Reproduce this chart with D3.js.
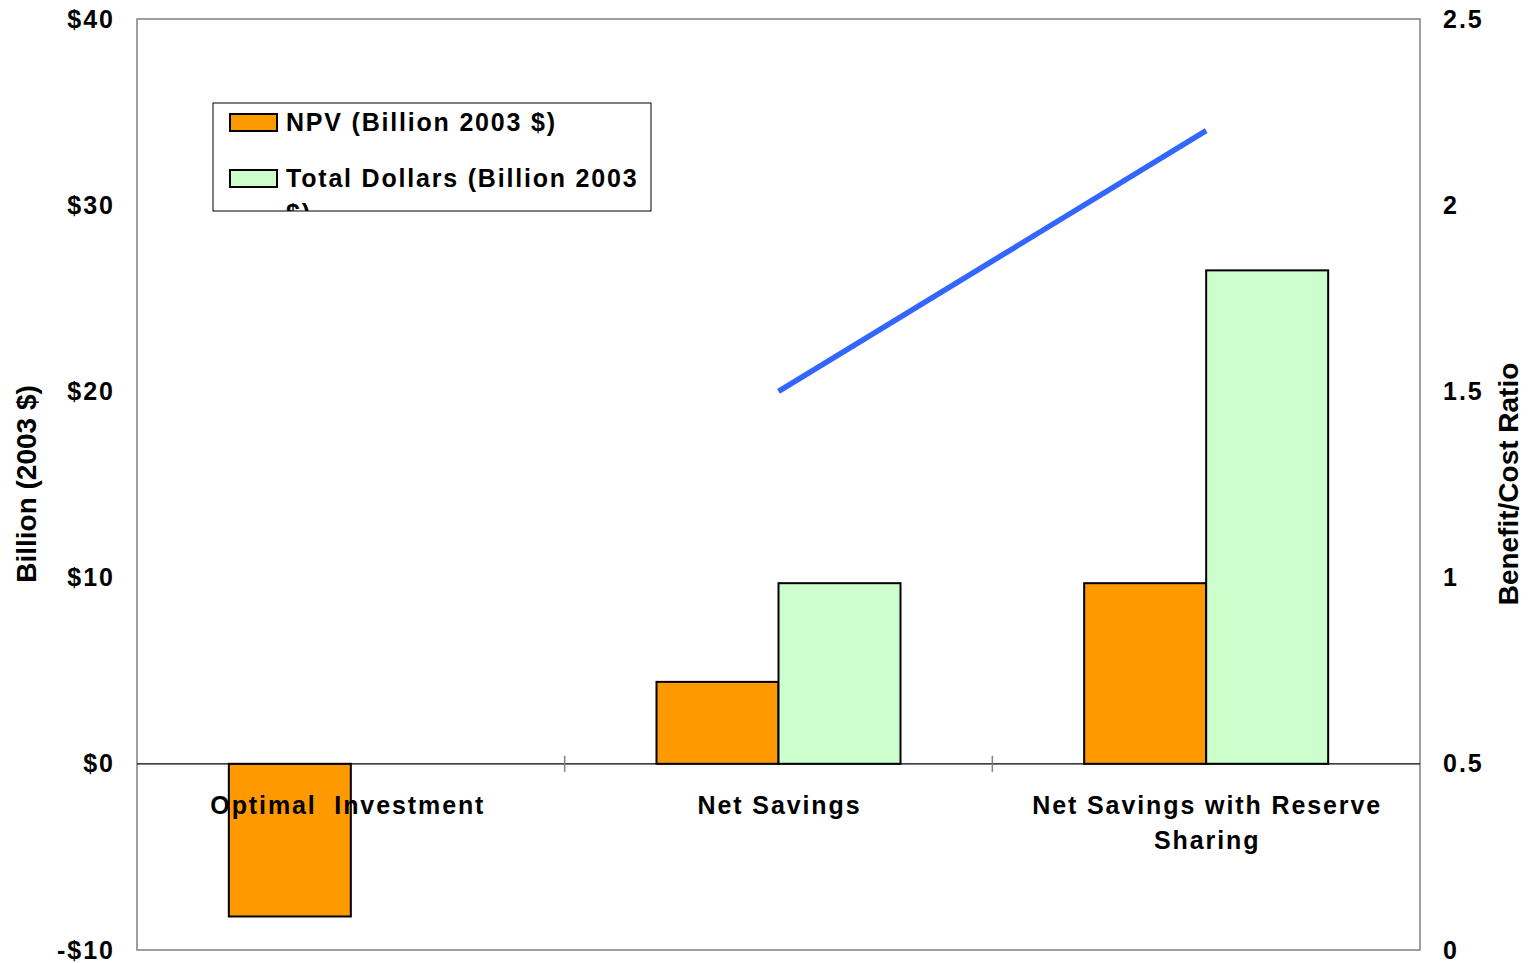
<!DOCTYPE html>
<html><head><meta charset="utf-8">
<script src="https://cdn.jsdelivr.net/npm/d3@7"></script>
<style>
body{margin:0;background:#fff;}
text{font-family:"Liberation Sans",Arial,sans-serif;font-weight:bold;fill:#000;}
</style></head>
<body>
<svg id="chart" width="1528" height="963"></svg>
<script>
const categories = ["Optimal  Investment", "Net Savings", "Net Savings with Reserve Sharing"];
const categoryLines = [["Optimal  Investment"], ["Net Savings"], ["Net Savings with Reserve", "Sharing"]];
const npvValues = [-8.2, 4.4, 9.7];
const totalValues = [null, 9.7, 26.5];
const ratioCategories = ["Net Savings", "Net Savings with Reserve Sharing"];
const ratioValues = [1.5, 2.2];
const leftTicks = [-10, 0, 10, 20, 30, 40];
const rightTicks = [0, 0.5, 1, 1.5, 2, 2.5];
const seriesNames = ["NPV (Billion 2003 $)", "Total Dollars (Billion 2003 $)"];
const colors = {npv: "#FF9900", total: "#CCFFCC", line: "#3366FF"};

const svg = d3.select("#chart");
const L = 137, R = 1420, T = 19, B = 950;

const x = d3.scaleBand().domain(categories).range([L, R]);
const y = d3.scaleLinear().domain([-10, 40]).range([B, T]);
const y2 = d3.scaleLinear().domain([0, 2.5]).range([B, T]);
const barW = 122;

// plot border
svg.append("rect").attr("x", L).attr("y", T).attr("width", R - L).attr("height", B - T)
  .attr("fill", "none").attr("stroke", "#808080").attr("stroke-width", 1.5);

// bars
const g = svg.append("g");
categories.forEach((c, i) => {
  const cx = x(c) + x.bandwidth() / 2;
  const v = npvValues[i];
  g.append("rect").attr("x", cx - barW).attr("width", barW)
    .attr("y", y(Math.max(0, v))).attr("height", Math.abs(y(v) - y(0)))
    .attr("fill", colors.npv).attr("stroke", "#000").attr("stroke-width", 2);
  const t = totalValues[i];
  if (t !== null) {
    g.append("rect").attr("x", cx).attr("width", barW)
      .attr("y", y(Math.max(0, t))).attr("height", Math.abs(y(t) - y(0)))
      .attr("fill", colors.total).attr("stroke", "#000").attr("stroke-width", 2);
  }
});

// zero line & category ticks
svg.append("line").attr("x1", L).attr("x2", R).attr("y1", y(0)).attr("y2", y(0))
  .attr("stroke", "#000").attr("stroke-width", 1.2);
categories.slice(1).forEach(c => {
  svg.append("line").attr("x1", x(c)).attr("x2", x(c)).attr("y1", y(0) - 8).attr("y2", y(0) + 8)
    .attr("stroke", "#808080").attr("stroke-width", 1.5);
});

// line
const line = d3.line().x(d => x(d[0]) + x.bandwidth() / 2).y(d => y2(d[1]));
svg.append("path").datum(ratioCategories.map((c, i) => [c, ratioValues[i]]))
  .attr("d", line).attr("fill", "none").attr("stroke", colors.line).attr("stroke-width", 5.5);

// left axis labels
svg.append("g").selectAll("text").data(leftTicks).join("text")
  .attr("x", 115).attr("y", d => y(d) + 8.5).attr("text-anchor", "end")
  .attr("font-size", 25).attr("letter-spacing", 2)
  .text(d => d < 0 ? "-$" + Math.abs(d) : "$" + d);
// right axis labels
svg.append("g").selectAll("text").data(rightTicks).join("text")
  .attr("x", 1443).attr("y", d => y2(d) + 8.5).attr("text-anchor", "start")
  .attr("font-size", 25).attr("letter-spacing", 2)
  .text(d => String(d));

// category labels
categories.forEach((c, i) => {
  const cx = x(c) + x.bandwidth() / 2;
  categoryLines[i].forEach((ln, j) => {
    svg.append("text").attr("x", cx - (i === 0 ? 3 : -1)).attr("y", 814 + j * 35)
      .attr("text-anchor", "middle").attr("font-size", 25).attr("letter-spacing", 1.9)
      .attr("xml:space", "preserve").style("white-space", "pre").text(ln);
  });
});

// axis titles
svg.append("text").attr("transform", "translate(36,484) rotate(-90)")
  .attr("text-anchor", "middle").attr("font-size", 28).text("Billion (2003 $)");
svg.append("text").attr("transform", "translate(1518,484) rotate(-90)")
  .attr("text-anchor", "middle").attr("font-size", 28).text("Benefit/Cost Ratio");

// legend
const lg = svg.append("g");
lg.append("clipPath").attr("id", "lgclip").append("rect")
  .attr("x", 213).attr("y", 103).attr("width", 438).attr("height", 108);
lg.append("rect").attr("x", 213).attr("y", 103).attr("width", 438).attr("height", 108)
  .attr("fill", "#fff").attr("stroke", "#000").attr("stroke-width", 1);
const lgi = lg.append("g").attr("clip-path", "url(#lgclip)");
[colors.npv, colors.total].forEach((col, i) => {
  lgi.append("rect").attr("x", 230).attr("y", 114 + i * 56).attr("width", 47).attr("height", 17)
    .attr("fill", col).attr("stroke", "#000").attr("stroke-width", 2);
});
lgi.append("text").attr("x", 286).attr("y", 131).attr("font-size", 25).attr("letter-spacing", 1.8).text(seriesNames[0]);
lgi.append("text").attr("x", 286).attr("y", 187).attr("font-size", 25).attr("letter-spacing", 1.8).text("Total Dollars (Billion 2003");
lgi.append("text").attr("x", 286).attr("y", 222).attr("font-size", 25).attr("letter-spacing", 1.8).text("$)");
</script>
</body></html>
